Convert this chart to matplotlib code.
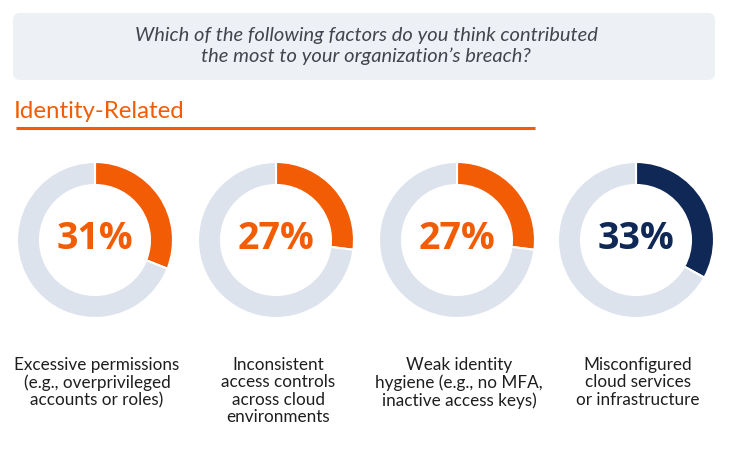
import matplotlib.pyplot as plt
from matplotlib.patches import FancyBboxPatch

# chart data
question = "Which of the following factors do you think contributed\nthe most to your organization\u2019s breach?"
section = "Identity-Related"
percents = [31, 27, 27, 33]
factors = [
    "Excessive permissions\n(e.g., overprivileged\naccounts or roles)",
    "Inconsistent\naccess controls\nacross cloud\nenvironments",
    "Weak identity\nhygiene (e.g., no MFA,\ninactive access keys)",
    "Misconfigured\ncloud services\nor infrastructure",
]
ring_colors = ["#F25C05", "#F25C05", "#F25C05", "#0F2855"]

W, H = 741, 457
ORANGE = "#F25C05"
TRACK = "#DCE3ED"

fig = plt.figure(figsize=(W / 100, H / 100), dpi=100)
ax = fig.add_axes([0, 0, 1, 1])

# header box
box = FancyBboxPatch((13, H - 80), 702, 67, boxstyle="round,pad=0,rounding_size=7",
                     fc="#EDF1F6", ec="none")
ax.add_patch(box)
ax.text(366, H - 46, question, ha="center", va="center", fontsize=14.5,
        style="italic", color="#44444E", family="Lato", linespacing=1.22)

# section title + underline
ax.text(14, H - 112, section, ha="left", va="center", fontsize=17.3,
        color=ORANGE, family="Lato")
ax.plot([16, 535], [H - 128, H - 128], color=ORANGE, lw=2.2, solid_capstyle="butt")

centers = [95, 276, 457, 636]
cy = H - 240
for cx, p, col, lab in zip(centers, percents, ring_colors, factors):
    ax.pie([p, 100 - p], colors=[col, TRACK], center=(cx, cy), radius=78,
           startangle=90, counterclock=False,
           wedgeprops=dict(width=23, edgecolor="white", linewidth=1.5))
    ax.text(cx, cy + 1, "%d%%" % p, ha="center", va="center", fontsize=27,
            fontweight="bold", color=col, family="Open Sans")
    ax.text(cx + 2, H - 357, lab, ha="center", va="top", fontsize=12.3,
            color="#1E1E1E", family="Lato", linespacing=1.1)

ax.set_xlim(0, W)
ax.set_ylim(0, H)
ax.set_aspect("equal")
ax.axis("off")

fig.savefig("out.png", dpi=100)
